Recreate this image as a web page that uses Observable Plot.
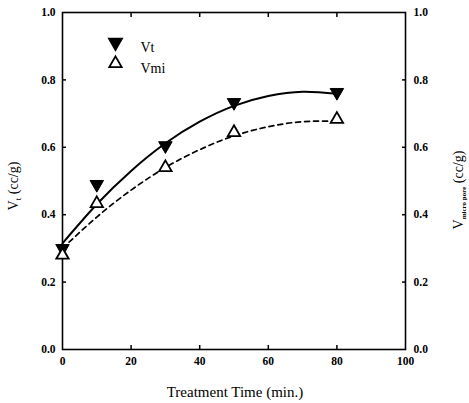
<!DOCTYPE html>
<html>
<head>
<meta charset="utf-8">
<script src="https://cdn.jsdelivr.net/npm/d3@7"></script>
<script src="https://cdn.jsdelivr.net/npm/@observablehq/plot@0.6"></script>
<style>
  html, body { margin: 0; padding: 0; background: #fff; }
  #chart { position: relative; width: 469px; height: 403px; }
  svg { font-family: "Liberation Serif", "DejaVu Serif", serif; }
</style>
</head>
<body>
<div id="chart"></div>
<script>
// Data
const time = [0, 10, 30, 50, 80];
const vt = [0.30, 0.49, 0.605, 0.733, 0.763];
const vmi = [0.28, 0.433, 0.54, 0.644, 0.683];

const curveTime = [0, 10, 20, 30, 40, 50, 60, 70, 80];
const vtCurve = [0.315, 0.431, 0.530, 0.612, 0.676, 0.723, 0.752, 0.765, 0.759];
const vmiCurve = [0.300, 0.393, 0.473, 0.540, 0.593, 0.634, 0.661, 0.676, 0.677];

// Axis ticks
const xLabelTicks = [0, 20, 40, 60, 80, 100];
const xInnerTicks = [20, 40, 60, 80];
const yLabelTicks = [0, 0.2, 0.4, 0.6, 0.8, 1.0];
const yInnerTicks = [0.2, 0.4, 0.6, 0.8];

const legendLabels = ["Vt", "Vmi"];

const vtPts = time.map((t, i) => ({t, v: vt[i]}));
const vmiPts = time.map((t, i) => ({t, v: vmi[i]}));
const vtLine = curveTime.map((t, i) => ({t, v: vtCurve[i]}));
const vmiLine = curveTime.map((t, i) => ({t, v: vmiCurve[i]}));

const fmt = d3.format(".1f");
const serif = "Liberation Serif";

const plot = Plot.plot({
  width: 469,
  height: 403,
  marginLeft: 62,
  marginRight: 64,
  marginTop: 12,
  marginBottom: 54,
  style: {fontFamily: "'Liberation Serif', serif", fontSize: "11px", color: "#000", background: "#fff"},
  x: {domain: [0, 100]},
  y: {domain: [0, 1]},
  marks: [
    Plot.frame({stroke: "#000", strokeWidth: 1.6}),
    // tick labels
    Plot.axisX(xLabelTicks, {anchor: "bottom", tickSize: 0, tickPadding: 7, label: null, fontWeight: "bold", fontSize: 11.5, fontFamily: serif}),
    Plot.axisY(yLabelTicks, {anchor: "left", tickSize: 0, tickPadding: 7, tickFormat: fmt, label: null, fontWeight: "bold", fontSize: 11.5, fontFamily: serif}),
    Plot.axisY(yLabelTicks, {anchor: "right", tickSize: 0, tickPadding: 8, tickFormat: fmt, label: null, fontWeight: "bold", fontSize: 11.5, fontFamily: serif}),
    // inward ticks
    Plot.axisX(xInnerTicks, {anchor: "bottom", tickSize: -4, text: null, label: null, strokeWidth: 1.5}),
    Plot.axisX(xInnerTicks, {anchor: "top", tickSize: -4, text: null, label: null, strokeWidth: 1.5}),
    Plot.axisY(yInnerTicks, {anchor: "left", tickSize: -4, text: null, label: null, strokeWidth: 1.5}),
    Plot.axisY(yInnerTicks, {anchor: "right", tickSize: -4, text: null, label: null, strokeWidth: 1.5}),
    // curves
    Plot.line(vtLine, {x: "t", y: "v", curve: "natural", stroke: "#000", strokeWidth: 2}),
    Plot.line(vmiLine, {x: "t", y: "v", curve: "natural", stroke: "#000", strokeWidth: 1.7, strokeDasharray: "5,4"}),
    // points
    Plot.dot(vtPts, {x: "t", y: "v", symbol: "triangle", r: 5, rotate: 180, fill: "#000", stroke: "#000", strokeWidth: 1}),
    Plot.dot(vmiPts, {x: "t", y: "v", symbol: "triangle", r: 4.6, fill: "#fff", stroke: "#000", strokeWidth: 1.8}),
    // legend
    Plot.dot([legendLabels[0]], {frameAnchor: "top-left", dx: 53, dy: 30, symbol: "triangle", r: 5, rotate: 180, fill: "#000", stroke: "#000"}),
    Plot.dot([legendLabels[1]], {frameAnchor: "top-left", dx: 53, dy: 51, symbol: "triangle", r: 4.6, fill: "#fff", stroke: "#000", strokeWidth: 1.8}),
    Plot.text([legendLabels[0]], {text: d => d, frameAnchor: "top-left", dx: 78, dy: 30, textAnchor: "start", fontSize: 14, fontFamily: serif}),
    Plot.text([legendLabels[1]], {text: d => d, frameAnchor: "top-left", dx: 78, dy: 51, textAnchor: "start", fontSize: 14, fontFamily: serif})
  ]
});

document.getElementById("chart").appendChild(plot);

// Axis titles with subscripts
const svg = d3.select(plot);
const lt = svg.append("text")
  .attr("transform", "translate(18,186) rotate(-90)")
  .attr("text-anchor", "middle")
  .attr("font-family", serif)
  .attr("font-size", 14)
  .attr("fill", "#000");
lt.append("tspan").text("V");
lt.append("tspan").attr("font-size", 9).attr("dy", 3).text("t");
lt.append("tspan").attr("dy", -3).text(" (cc/g)");

const rt = svg.append("text")
  .attr("transform", "translate(463,190) rotate(-90)")
  .attr("text-anchor", "middle")
  .attr("font-family", serif)
  .attr("font-size", 14)
  .attr("fill", "#000");
rt.append("tspan").text("V");
rt.append("tspan").attr("font-size", 7).attr("font-weight", "bold").attr("dy", 3).text("micro pore");
rt.append("tspan").attr("dy", -3).text(" (cc/g)");

svg.append("text")
  .attr("x", 235)
  .attr("y", 397)
  .attr("text-anchor", "middle")
  .attr("font-family", serif)
  .attr("font-size", 15)
  .attr("fill", "#000")
  .text("Treatment Time (min.)");
</script>
</body>
</html>
